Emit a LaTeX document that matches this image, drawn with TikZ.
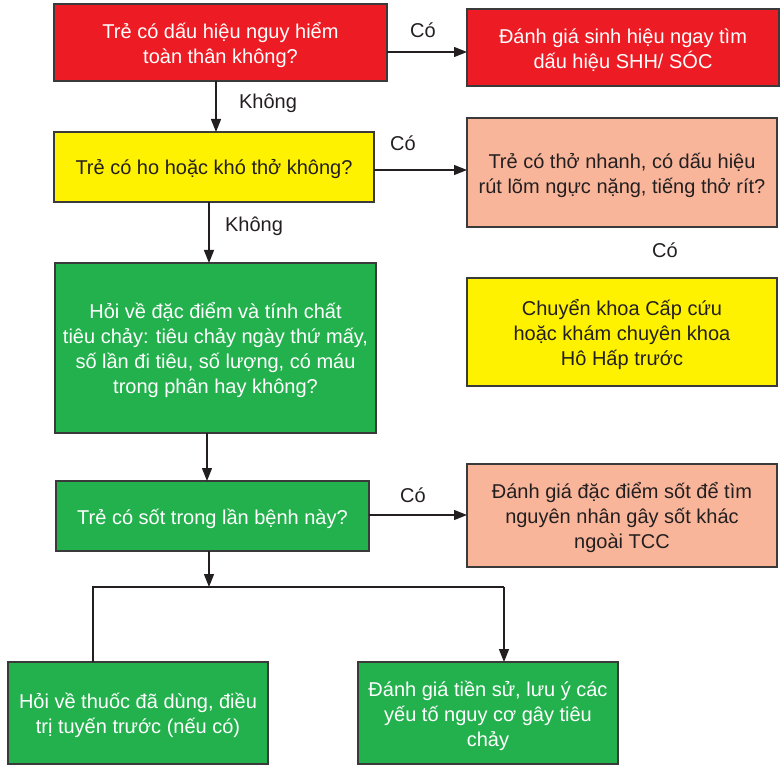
\documentclass[tikz,border=0pt]{standalone}
\usepackage{fontspec}
\setmainfont{Liberation Sans}
\usetikzlibrary{arrows.meta}
\definecolor{redbox}{RGB}{237,28,36}
\definecolor{yellowbox}{RGB}{255,242,0}
\definecolor{salmonbox}{RGB}{249,181,154}
\definecolor{greenbox}{RGB}{35,177,77}
\definecolor{edge}{RGB}{58,58,58}
\definecolor{ink}{RGB}{35,31,32}
\tikzset{
  box/.style={draw=edge, line width=1.3pt, inner sep=0pt, outer sep=0pt},
  redstep/.style={box, fill=redbox},
  yellowstep/.style={box, fill=yellowbox},
  salmonstep/.style={box, fill=salmonbox},
  greenstep/.style={box, fill=greenbox},
  boxtext/.style={inner sep=0pt, align=center, yshift=-2.5pt,
    font=\fontsize{20}{25}\selectfont},
  light/.style={boxtext, text=white},
  dark/.style={boxtext, text=ink},
  lbl/.style={text=ink, inner sep=0pt, font=\fontsize{20}{25}\selectfont},
  arr/.style={draw=ink, line width=1.3pt, -{Triangle[length=13pt,width=10pt]}},
  ln/.style={draw=ink, line width=1.3pt}
}
\begin{document}
\begin{tikzpicture}[x=1pt,y=-1pt]
\useasboundingbox (0,0) rectangle (780,765);

% boxes
\node[redstep, minimum width=333pt, minimum height=77pt] (b1) at (220.5,42.5) {};
\node[redstep, minimum width=312pt, minimum height=77pt] (r1) at (623,47.5) {};
\node[yellowstep, minimum width=320pt, minimum height=70pt] (q2) at (214,167) {};
\node[salmonstep, minimum width=310pt, minimum height=109pt] (s1) at (622,172.5) {};
\node[yellowstep, minimum width=310pt, minimum height=108pt] (y2) at (622,332) {};
\node[greenstep, minimum width=321pt, minimum height=170pt] (g1) at (215.5,348) {};
\node[greenstep, minimum width=313pt, minimum height=70pt] (f1) at (212.5,516) {};
\node[salmonstep, minimum width=310pt, minimum height=103pt] (s2) at (622,515.5) {};
\node[greenstep, minimum width=260pt, minimum height=102pt] (gl) at (138,713) {};
\node[greenstep, minimum width=260pt, minimum height=102pt] (gr) at (488,713) {};

% box texts
\node[light] (b1t) at (b1) {Trẻ có dấu hiệu nguy hiểm\\toàn thân không?};
\node[light] (r1t) at (r1) {Đánh giá sinh hiệu ngay tìm\\dấu hiệu SHH/ SÓC};
\node[dark] (q2t) at (q2) {Trẻ có ho hoặc khó thở không?};
\node[dark] (s1t) at (s1) {Trẻ có thở nhanh, có dấu hiệu\\rút lõm ngực nặng, tiếng thở rít?};
\node[dark] (y2t) at (y2) {Chuyển khoa Cấp cứu\\hoặc khám chuyên khoa\\Hô Hấp trước};
\node[light] (g1t) at (g1) {Hỏi về đặc điểm và tính chất\\tiêu chảy: tiêu chảy ngày thứ mấy,\\số lần đi tiêu, số lượng, có máu\\trong phân hay không?};
\node[light] (f1t) at (f1) {Trẻ có sốt trong lần bệnh này?};
\node[dark] (s2t) at (s2) {Đánh giá đặc điểm sốt để tìm\\nguyên nhân gây sốt khác\\ngoài TCC};
\node[light] (glt) at (gl) {Hỏi về thuốc đã dùng, điều\\trị tuyến trước (nếu có)};
\node[light] (grt) at (gr) {Đánh giá tiền sử, lưu ý các\\yếu tố nguy cơ gây tiêu\\chảy};

% branch point below the fever question
\coordinate (jn) at (209,587);
\coordinate (jl) at (93,587);
\coordinate (jr) at (504,587);

% connectors
\draw[arr] ([xshift=-4.5pt]b1.south) -- ([xshift=-4.5pt]b1.south |- q2.north);
\draw[arr] ([xshift=-5pt]q2.south) -- ([xshift=-5pt]q2.south |- g1.north);
\draw[arr] ([xshift=-8.5pt]g1.south) -- ([xshift=-8.5pt]g1.south |- f1.north);
\draw[arr] ([xshift=-3.5pt]f1.south) -- (jn);
\draw[ln] (jl |- gl.north) -- (jl) -- (jr);
\draw[arr] (jr) -- (jr |- gr.north);
\draw[arr] ([yshift=-9.5pt]b1.east) -- ([yshift=-9.5pt]b1.east -| r1.west);
\draw[arr] ([yshift=-3pt]q2.east) -- ([yshift=-3pt]q2.east -| s1.west);
\draw[arr] ([yshift=1pt]f1.east) -- ([yshift=1pt]f1.east -| s2.west);

% branch labels
\node[lbl] (l1) at (423,30) {Có};
\node[lbl] (l2) at (268,103) {Không};
\node[lbl] (l3) at (403,143) {Có};
\node[lbl] (l4) at (254,226) {Không};
\node[lbl] (l5) at (665,250) {Có};
\node[lbl] (l6) at (413,495) {Có};
\end{tikzpicture}
\end{document}
